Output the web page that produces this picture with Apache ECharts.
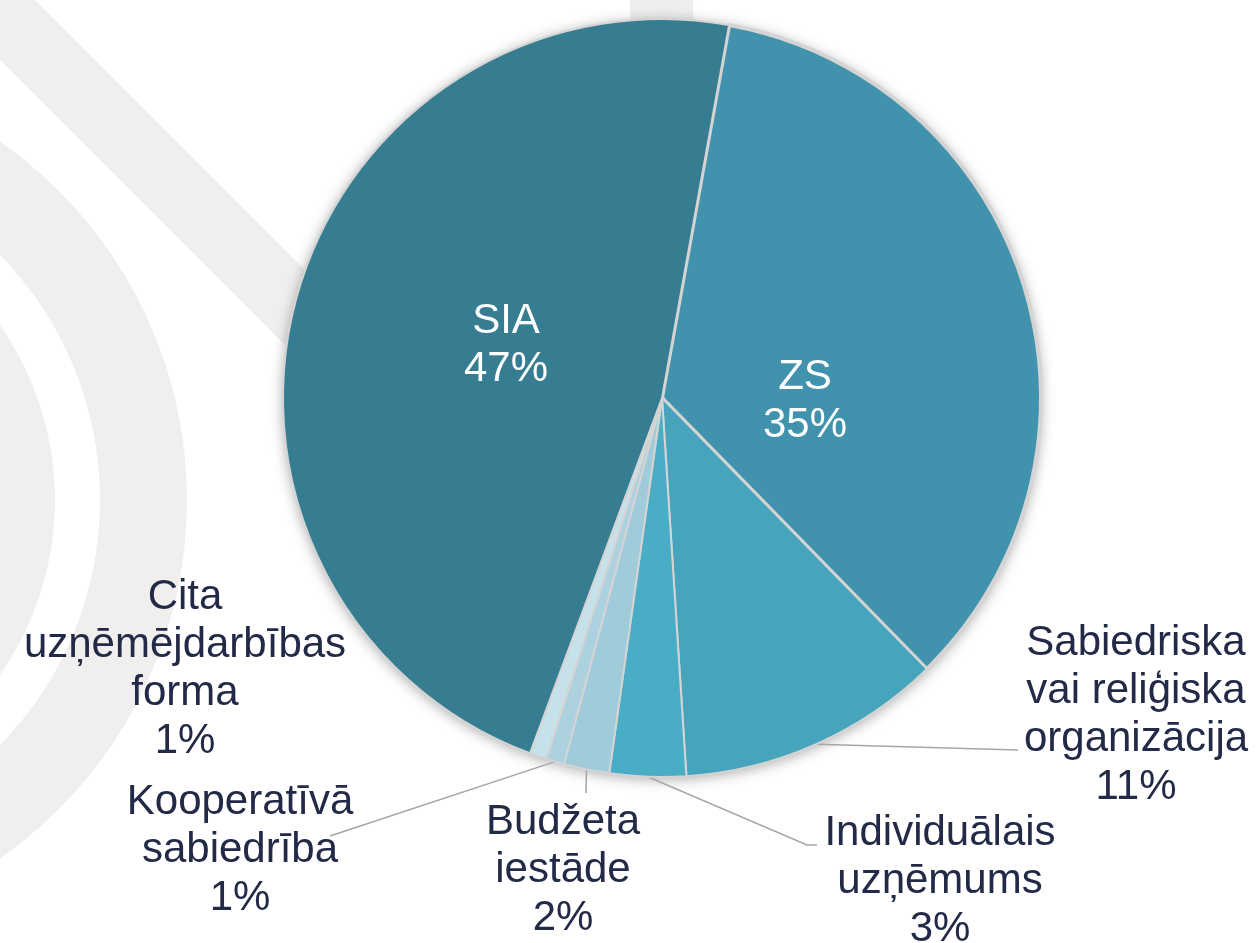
<!DOCTYPE html>
<html>
<head>
<meta charset="UTF-8">
<title></title>
<script src="https://cdn.jsdelivr.net/npm/echarts@6/dist/echarts.min.js"></script>
</head>
<body style="margin:0;background:#fff;">
<div id="chart" style="width:1257px;height:943px;"></div>
<script>
// uzņēmējdarbības formas - daļa no kopskaita (%)
var categories = ['ZS', 'Sabiedriska\nvai reliģiska\norganizācija', 'Individuālais\nuzņēmums', 'Budžeta\niestāde', 'Kooperatīvā\nsabiedrība', 'Cita\nuzņēmējdarbības\nforma', 'SIA'];
var shares = [34.85, 11.29, 3.25, 1.94, 0.78, 0.72, 47.17];
var colors = ['#4192AC', '#46A4BD', '#4AADC6', '#A0CBDB', '#ADD2DF', '#C6E1EA', '#367D91'];

// label boxes: centre, leader line end (null = no line), inside or not
var labelBox = [
	{x: 805, y: 401, inside: true},
	{x: 1136, y: 715, line: [[1018, 750], [1018, 750]]},
	{x: 940, y: 881, line: [[807, 845], [817, 845]]},
	{x: 563, y: 870, line: [[586, 793], [586, 793]]},
	{x: 240, y: 850, line: [[330, 836], [330, 836]]},
	{x: 185, y: 669, line: null},
	{x: 506, y: 345, inside: true}
];

var txtColor = '#222A47';
var font = 'Liberation Sans, Arial, sans-serif';

var pieData = categories.map(function(name, i) {
	var b = labelBox[i];
	var item = {name: name, value: shares[i], itemStyle: {color: colors[i]}};
	if (b.inside) {
		item.label = {position: 'inside', color: '#fff'};
		item.labelLine = {show: false};
	} else if (!b.line) {
		item.labelLine = {show: false};
	}
	return item;
});
// ZS has a wider gap round it
pieData[0].itemStyle.borderWidth = 4;

var chart = echarts.init(document.getElementById('chart'));
var option = {
	animation: false,
	backgroundColor: '#fff',
	graphic: [
		{type: 'polygon', z: 0, silent: true, shape: {points: [[0, 0], [35, 0], [420, 385], [420, 480], [0, 60]]}, style: {fill: '#F0EFED'}},
		{type: 'ring', z: 0, silent: true, shape: {cx: -250, cy: 500, r: 437, r0: 350}, style: {fill: '#F0EFED'}},
		{type: 'ring', z: 0, silent: true, shape: {cx: -250, cy: 500, r: 305, r0: 200}, style: {fill: '#F0EFED'}},
		{type: 'rect', z: 0, silent: true, shape: {x: 630, y: 0, width: 63, height: 40}, style: {fill: '#F0EFED'}}
	],
	series: [{
		// shadow under the pie
		type: 'pie',
		silent: true,
		z: 1,
		center: [662, 398],
		radius: 379,
		label: {show: false},
		labelLine: {show: false},
		itemStyle: {color: '#fff', shadowBlur: 14, shadowColor: 'rgba(0,0,0,0.35)', shadowOffsetY: 2},
		data: [1]
	}, {
		type: 'pie',
		z: 2,
		center: [662, 398],
		radius: 379,
		startAngle: 79.8,
		clockwise: true,
		avoidLabelOverlap: false,
		percentPrecision: 0,
		itemStyle: {borderColor: '#D4D4D4', borderWidth: 2},
		label: {
			show: true,
			position: 'outside',
			formatter: '{b}\n{d}%',
			fontFamily: font,
			fontSize: 42,
			lineHeight: 48,
			color: txtColor,
			align: 'center'
		},
		labelLine: {show: true, lineStyle: {color: '#A6A6A6', width: 1.5}},
		labelLayout: function(params) {
			var b = labelBox[params.dataIndex];
			var res = {x: b.x, y: b.y, align: 'center', verticalAlign: 'middle'};
			if (b.line && params.labelLinePoints) {
				res.labelLinePoints = [params.labelLinePoints[0]].concat(b.line);
			}
			return res;
		},
		data: pieData
	}]
};
chart.setOption(option);
</script>
</body>
</html>
